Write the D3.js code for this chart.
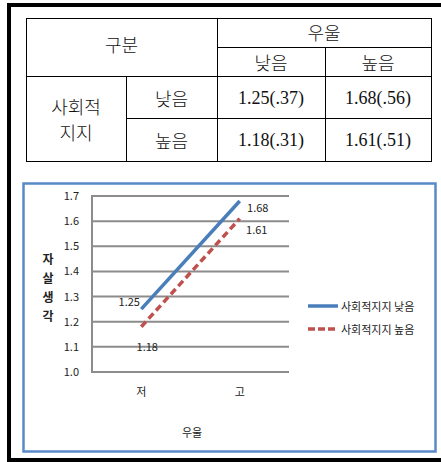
<!DOCTYPE html>
<html>
<head>
<meta charset="utf-8">
<script src="https://cdn.jsdelivr.net/npm/d3@7"></script>
<style>
  html, body { margin: 0; padding: 0; background: #fff; }
  svg { display: block; }
</style>
</head>
<body>
<svg id="fig" width="441" height="462"></svg>
<script>
// Table: mean (SD) of suicidal ideation by depression x social support
const depressionLevels = ["낮음", "높음"];
const supportLevels = ["낮음", "높음"];
const tableCells = [
  ["1.25(.37)", "1.68(.56)"],
  ["1.18(.31)", "1.61(.51)"]
];

// Line chart data
const categories = ["저", "고"];
const seriesNames = ["사회적지지 낮음", "사회적지지 높음"];
const seriesLow = [1.25, 1.68];
const seriesHigh = [1.18, 1.61];
const yTicks = [1.0, 1.1, 1.2, 1.3, 1.4, 1.5, 1.6, 1.7];

const svg = d3.select("#fig");
const krFont = "'Noto Sans CJK KR', sans-serif";
const numSerif = "'Liberation Serif', 'DejaVu Serif', serif";
const sans = "'Noto Sans CJK KR', 'Liberation Sans', sans-serif";

// Outer frame (thick black, left/top/bottom)
svg.append("rect").attr("x", 7).attr("y", 3).attr("width", 436).attr("height", 4).attr("fill", "#000");
svg.append("rect").attr("x", 7).attr("y", 3).attr("width", 4).attr("height", 459).attr("fill", "#000");
svg.append("rect").attr("x", 7).attr("y", 458).attr("width", 436).attr("height", 4).attr("fill", "#000");

// ---- Table ----
const T = { x0: 26, x1: 126, x2: 217, x3: 325, x4: 431, y0: 18, y1: 47, y2: 76, y3: 118, y4: 161 };
const tg = svg.append("g").attr("stroke", "#000").attr("stroke-width", 1).attr("shape-rendering", "crispEdges");
tg.append("rect").attr("x", T.x0).attr("y", T.y0).attr("width", T.x4 - T.x0).attr("height", T.y4 - T.y0).attr("fill", "none");
const tLines = [
  [T.x2, T.y0, T.x2, T.y4],
  [T.x2, T.y1, T.x4, T.y1],
  [T.x3, T.y1, T.x3, T.y4],
  [T.x0, T.y2, T.x4, T.y2],
  [T.x1, T.y2, T.x1, T.y4],
  [T.x1, T.y3, T.x4, T.y3]
];
tg.selectAll("line").data(tLines).join("line")
  .attr("x1", d => d[0]).attr("y1", d => d[1]).attr("x2", d => d[2]).attr("y2", d => d[3]);

function tText(x, y, s, font, weight) {
  svg.append("text").attr("x", x).attr("y", y).attr("text-anchor", "middle")
    .attr("dominant-baseline", "central").attr("font-family", font)
    .attr("font-weight", weight || 400)
    .attr("font-size", 18).attr("fill", "#111").text(s);
}
tText((T.x0 + T.x2) / 2, 44, "구분", krFont, 300);
tText((T.x2 + T.x4) / 2, 32, "우울", krFont, 300);
const colX = [(T.x2 + T.x3) / 2, (T.x3 + T.x4) / 2];
const rowY = [98, 140];
depressionLevels.forEach((d, i) => tText(colX[i], 62, d, krFont, 300));
tText((T.x0 + T.x1) / 2, 106, "사회적", krFont, 300);
tText((T.x0 + T.x1) / 2, 132, "지지", krFont, 300);
supportLevels.forEach((s, i) => tText((T.x1 + T.x2) / 2, rowY[i], s, krFont, 300));
tableCells.forEach((row, i) => row.forEach((c, j) => tText(colX[j], rowY[i], c, numSerif)));

// ---- Chart box ----
svg.append("rect").attr("x", 23.5).attr("y", 183.5).attr("width", 412).attr("height", 268)
  .attr("fill", "#fff").attr("stroke", "#5a89c8").attr("stroke-width", 2.5);

const plot = { left: 92, right: 289, top: 196, bottom: 372 };
const x = d3.scaleBand().domain(categories).range([plot.left, plot.right]);
const y = d3.scaleLinear().domain([1.0, 1.7]).range([plot.bottom, plot.top]);

const g = svg.append("g");

// Gridlines
g.selectAll("line.grid").data(yTicks).join("line").attr("class", "grid")
  .attr("x1", plot.left).attr("x2", plot.right)
  .attr("y1", d => y(d)).attr("y2", d => y(d))
  .attr("stroke", "#8c8c8c").attr("stroke-width", 2);
g.append("line").attr("x1", plot.left).attr("x2", plot.left)
  .attr("y1", plot.top - 1).attr("y2", plot.bottom + 1)
  .attr("stroke", "#8c8c8c").attr("stroke-width", 2);

// Y axis labels
const yAxis = d3.axisLeft(y).tickValues(yTicks).tickFormat(d3.format(".1f")).tickSize(0).tickPadding(13);
const yg = g.append("g").attr("transform", `translate(${plot.left},0)`).call(yAxis);
yg.select(".domain").remove();
yg.selectAll("text").attr("font-family", sans).attr("font-size", 11).attr("fill", "#222");

// X axis labels
const xAxis = d3.axisBottom(x).tickSize(0).tickPadding(16);
const xg = g.append("g").attr("transform", `translate(0,${plot.bottom})`).call(xAxis);
xg.select(".domain").remove();
xg.selectAll("text").attr("font-family", sans).attr("font-size", 11).attr("fill", "#222");

// Axis titles
const yTitle = "자살생각".split("");
g.selectAll("text.ytitle").data(yTitle).join("text").attr("class", "ytitle")
  .attr("x", 48).attr("y", (d, i) => 258 + i * 19)
  .attr("text-anchor", "middle").attr("dominant-baseline", "central")
  .attr("font-family", sans).attr("font-weight", "bold").attr("font-size", 12).attr("fill", "#222")
  .text(d => d);
g.append("text").attr("x", 192).attr("y", 432).attr("text-anchor", "middle")
  .attr("dominant-baseline", "central").attr("font-family", sans).attr("font-size", 11)
  .attr("fill", "#222").text("우울");

// Series lines
const series = [
  { name: seriesNames[0], values: seriesLow, color: "#4a7ebb", dash: null },
  { name: seriesNames[1], values: seriesHigh, color: "#c0504d", dash: "7,4" }
];
const line = d3.line().x((d, i) => x(categories[i]) + x.bandwidth() / 2).y(d => y(d));
g.selectAll("path.series").data(series).join("path").attr("class", "series")
  .attr("d", d => line(d.values)).attr("fill", "none")
  .attr("stroke", d => d.color).attr("stroke-width", 3.5)
  .attr("stroke-dasharray", d => d.dash);

// Value labels
const labelPos = [
  [{ dx: -12, dy: -8 }, { dx: 18, dy: 6 }],
  [{ dx: 6, dy: 19 }, { dx: 17, dy: 10 }]
];
series.forEach((s, si) => {
  s.values.forEach((v, i) => {
    const p = labelPos[si][i];
    g.append("text")
      .attr("x", x(categories[i]) + x.bandwidth() / 2 + p.dx)
      .attr("y", y(v) + p.dy)
      .attr("text-anchor", "middle").attr("dominant-baseline", "central")
      .attr("font-family", sans).attr("font-size", 11).attr("fill", "#222")
      .text(d3.format(".2f")(v));
  });
});

// Legend
const lg = g.selectAll("g.legend").data(series).join("g").attr("class", "legend")
  .attr("transform", (d, i) => `translate(308,${306 + i * 23})`);
lg.append("line").attr("x1", 0).attr("x2", 30).attr("y1", 0).attr("y2", 0)
  .attr("stroke", d => d.color).attr("stroke-width", 3.5)
  .attr("stroke-dasharray", d => d.dash ? "7,3" : null);
lg.append("text").attr("x", 33).attr("y", 0).attr("dominant-baseline", "central")
  .attr("font-family", sans).attr("font-size", 11).attr("fill", "#222")
  .text(d => d.name);
</script>
</body>
</html>
